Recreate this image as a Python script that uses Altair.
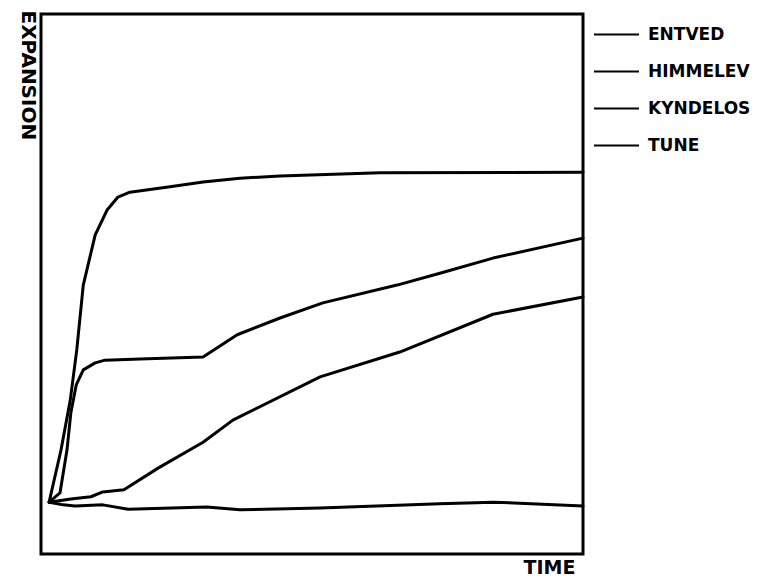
import altair as alt
import pandas as pd

# Site names (legend order)
names = ["ENTVED", "HIMMELEV", "KYNDELOS", "TUNE"]

# Curves (time and expansion on a 0-100 relative scale)
entved_time = [1.5, 3.7, 5.4, 6.6, 7.8, 10.0, 12.2, 14.2, 16.4, 23.8, 29.9, 36.7, 44.1, 62.6, 100.0]
entved_exp = [9.6, 19.3, 28.5, 37.8, 49.8, 59.1, 63.7, 66.1, 67.0, 68.0, 68.9, 69.6, 70.0, 70.6, 70.7]

himmelev_time = [1.5, 3.5, 4.8, 5.5, 6.5, 7.8, 10.0, 11.8, 18.3, 29.9, 36.2, 44.1, 52.0, 65.7, 73.6, 83.4, 100.0]
himmelev_exp = [9.6, 11.3, 19.3, 26.1, 31.3, 34.1, 35.4, 35.9, 36.1, 36.5, 40.6, 43.7, 46.5, 49.8, 52.0, 54.8, 58.5]

kyndelos_time = [1.5, 5.5, 9.2, 11.4, 15.3, 21.6, 29.9, 35.4, 51.5, 66.2, 83.4, 100.0]
kyndelos_exp = [9.6, 10.2, 10.6, 11.5, 11.9, 15.9, 20.7, 24.8, 32.8, 37.4, 44.4, 47.6]

tune_time = [1.5, 4.1, 6.3, 11.4, 16.1, 30.6, 36.7, 51.5, 73.6, 83.4, 100.0]
tune_exp = [9.6, 9.1, 8.9, 9.1, 8.3, 8.7, 8.2, 8.5, 9.3, 9.6, 8.9]

series_time = [entved_time, himmelev_time, kyndelos_time, tune_time]
series_exp = [entved_exp, himmelev_exp, kyndelos_exp, tune_exp]

rows = []
for name, ts, es in zip(names, series_time, series_exp):
    for i, (t, e) in enumerate(zip(ts, es)):
        rows.append({"site": name, "time": t, "expansion": e, "order": i})
df = pd.DataFrame(rows)

FONT = "DejaVu Sans"

chart = (
    alt.Chart(df)
    .mark_line(strokeWidth=3, strokeJoin="round", strokeCap="round")
    .encode(
        x=alt.X(
            "time:Q",
            scale=alt.Scale(domain=[0, 100], nice=False, zero=False),
            axis=alt.Axis(
                title="TIME",
                domain=False, ticks=False, labels=False, grid=False,
                titleFont=FONT, titleFontWeight="bold", titleFontSize=19,
                titleColor="black", titleAlign="right", titleBaseline="middle",
                titleX=534, titleY=13,
            ),
        ),
        y=alt.Y(
            "expansion:Q",
            scale=alt.Scale(domain=[0, 100], nice=False, zero=False),
            axis=alt.Axis(
                title="EXPANSION",
                domain=False, ticks=False, labels=False, grid=False,
                titleFont=FONT, titleFontWeight="bold", titleFontSize=20,
                titleColor="black", titleAngle=90, titleAlign="left",
                titleBaseline="middle", titleX=-14, titleY=-4,
            ),
        ),
        color=alt.Color(
            "site:N",
            scale=alt.Scale(domain=names, range=["black"] * 4),
            legend=alt.Legend(
                title=None, orient="none", legendX=552, legendY=-3,
                symbolType="stroke", symbolSize=2025, symbolStrokeWidth=2,
                labelFont=FONT, labelFontWeight="bold", labelFontSize=17,
                labelColor="black", labelOffset=8, rowPadding=5, padding=0,
            ),
        ),
        order="order:Q",
    )
    .properties(
        width=542, height=540, autosize="none",
        padding={"left": 33, "top": 6, "right": 177, "bottom": 22},
    )
    .configure_view(stroke="black", strokeWidth=3)
)

chart.save("out.html", embed_options={"renderer": "svg", "actions": False})
